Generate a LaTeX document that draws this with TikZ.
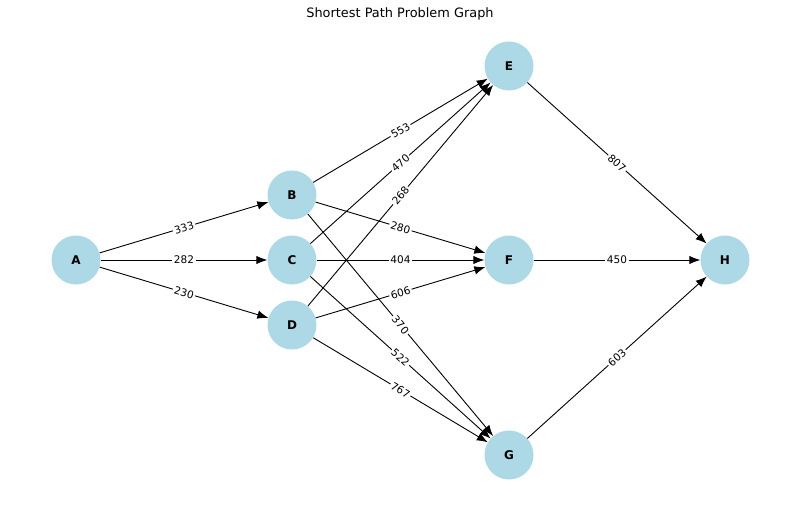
\documentclass[tikz,border=0pt]{standalone}
\usepackage{fontspec}
\setmainfont{DejaVu Sans}
\usetikzlibrary{arrows.meta}
\definecolor{nodeblue}{HTML}{ADD8E6}
\begin{document}
\begin{tikzpicture}[x=1pt,y=-1pt,
    vertex/.style={circle,fill=nodeblue,minimum size=49pt,inner sep=0pt,
                   font=\fontsize{12}{14}\selectfont\bfseries},
    weight/.style={midway,sloped,fill=white,inner sep=1.5pt,
                   font=\fontsize{10.5}{12}\selectfont},
    link/.style={-{Latex[length=11pt,width=8.5pt]},line width=0.9pt}]
      \useasboundingbox (0,0) rectangle (800,504);
      \node[font=\fontsize{12.9}{15}\selectfont] (title) at (400,14) {Shortest Path Problem Graph};

      \node[vertex] (A) at (76,260) {A};
      \node[vertex] (B) at (292,195) {B};
      \node[vertex] (C) at (292,260) {C};
      \node[vertex] (D) at (292,325) {D};
      \node[vertex] (E) at (509,66) {E};
      \node[vertex] (F) at (509,260) {F};
      \node[vertex] (G) at (509,455) {G};
      \node[vertex] (H) at (725,260) {H};

      \foreach \from/\to/\w in {A/B/333, A/C/282, A/D/230,
                                B/E/553, B/F/280, B/G/370,
                                C/E/470, C/F/404, C/G/522,
                                D/E/268, D/F/606, D/G/767,
                                E/H/807, F/H/450, G/H/603}
      {\draw[link] (\from) -- (\to) node[weight] {\w};
      };
    \end{tikzpicture}
\end{document}
